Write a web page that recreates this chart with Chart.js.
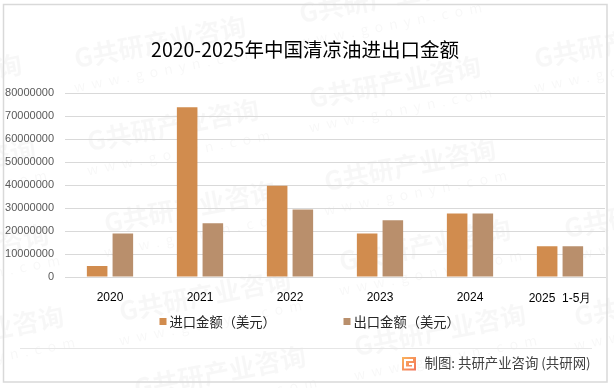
<!DOCTYPE html>
<html>
<head>
<meta charset="utf-8">
<script src="https://cdn.jsdelivr.net/npm/chart.js@4"></script>
<style>
  html, body { margin: 0; padding: 0; background: #fff; }
  #box { position: relative; width: 614px; height: 388px; overflow: hidden; }
</style>
</head>
<body>
<div id="box"><canvas id="grafico" width="614" height="388"></canvas></div>
<script>
// data
const categorias = ['2020', '2021', '2022', '2023', '2024', '2025  1-5月'];
const importacion = [4800000, 74000000, 39800000, 19000000, 27700000, 13400000];
const exportacion = [19000000, 23400000, 29400000, 24700000, 27700000, 13400000];
const titulo = '2020-2025年中国清凉油进出口金额';
const nombreImport = '进口金额（美元）';
const nombreExport = '出口金额（美元）';
const pie = '制图: 共研产业咨询 (共研网)';

const fuente = '"Noto Sans CJK SC", "Noto Sans", sans-serif';

// faint watermark: centre x, centre y
const marcas = [[160, 42], [620, 42], [395, 82], [173, 125], [190, 207], [205, 295], [-22, 332],
  [-64, 80], [-50, 165], [-37, 250], [220, 372], [410, 165], [425, 245], [440, 330],
  [650, 212], [660, 300], [385, -3]];

// where the legend items start
const leyendaX = [159.5, 343.5];

// page furniture drawn behind the chart
const fondo = {
  id: 'fondo',
  beforeDraw(chart) {
    const c = chart.ctx;
    c.save();
    // watermark
    c.textAlign = 'center';
    c.textBaseline = 'middle';
    marcas.forEach(m => {
      c.save();
      c.translate(m[0], m[1]);
      c.rotate(-11 * Math.PI / 180);
      c.fillStyle = 'rgba(0,0,0,0.03)';
      c.font = 'bold 26px ' + fuente;
      c.fillText('G共研产业咨询', 0, 0);
      c.font = '14px ' + fuente;
      c.fillText('w  w  w  .  g  o  n  y  n  .  c  o  m', 0, 28);
      c.restore();
    });
    // outer border
    c.strokeStyle = '#d9d9d9';
    c.lineWidth = 1.5;
    c.strokeRect(3.5, 4.5, 603.5, 377.5);
    // footer rule
    c.lineWidth = 1;
    c.strokeStyle = '#e6e6e6';
    c.beginPath();
    c.moveTo(20, 348.5);
    c.lineTo(592, 348.5);
    c.stroke();
    // logo
    const g = c.createLinearGradient(402, 357, 416, 371);
    g.addColorStop(0, '#fbb45c');
    g.addColorStop(1, '#f2705a');
    c.fillStyle = g;
    c.fillRect(402, 357, 14, 13.5);
    c.strokeStyle = '#fff';
    c.lineWidth = 2;
    c.beginPath();
    c.moveTo(413, 360);
    c.lineTo(405, 360);
    c.lineTo(405, 367.5);
    c.lineTo(413, 367.5);
    c.lineTo(413, 364);
    c.lineTo(409, 364);
    c.stroke();
    // source line
    c.fillStyle = '#404040';
    c.font = '13.4px ' + fuente;
    c.textAlign = 'left';
    c.textBaseline = 'middle';
    c.fillText(pie, 424.5, 363);
    // legend
    c.font = '13.3px ' + fuente;
    chart.data.datasets.forEach((d, i) => {
      c.fillStyle = d.backgroundColor;
      c.fillRect(leyendaX[i], 318, 7, 7);
      c.fillStyle = '#262626';
      c.fillText(d.label, leyendaX[i] + 10, 321.5);
    });
    c.restore();
  }
};

new Chart(document.getElementById('grafico').getContext('2d'), {
  type: 'bar',
  data: {
    labels: categorias,
    datasets: [
      { label: nombreImport, data: importacion, backgroundColor: '#d18c4e' },
      { label: nombreExport, data: exportacion, backgroundColor: '#b98f6c' }
    ]
  },
  plugins: [fondo],
  options: {
    responsive: false,
    animation: false,
    devicePixelRatio: 1,
    layout: { padding: { left: 5, right: 9, top: 0, bottom: 75 } },
    datasets: { bar: { categoryPercentage: 0.571, barPercentage: 0.8 } },
    plugins: {
      tooltip: { enabled: false },
      legend: { display: false },
      title: {
        display: true,
        text: titulo,
        color: '#000',
        font: { family: fuente, size: 19.5, weight: 'normal' },
        padding: { top: 38, bottom: 32 }
      }
    },
    scales: {
      x: {
        grid: { display: false },
        border: { color: '#d9d9d9' },
        ticks: {
          color: '#000',
          maxRotation: 0,
          autoSkip: false,
          padding: 5,
          font: ctx => ({
            family: '"Liberation Sans", sans-serif',
            size: 12,
            lineHeight: ctx.index === 5 ? 1.5 : 1.2
          })
        }
      },
      y: {
        min: 0,
        max: 80000000,
        afterFit(scale) { scale.width = 60; },
        grid: { color: '#d9d9d9', drawTicks: false },
        border: { display: false },
        ticks: {
          stepSize: 10000000,
          color: '#595959',
          padding: 11,
          font: { family: '"Liberation Sans", sans-serif', size: 11 },
          callback: v => String(v)
        }
      }
    }
  }
});
</script>
</body>
</html>
